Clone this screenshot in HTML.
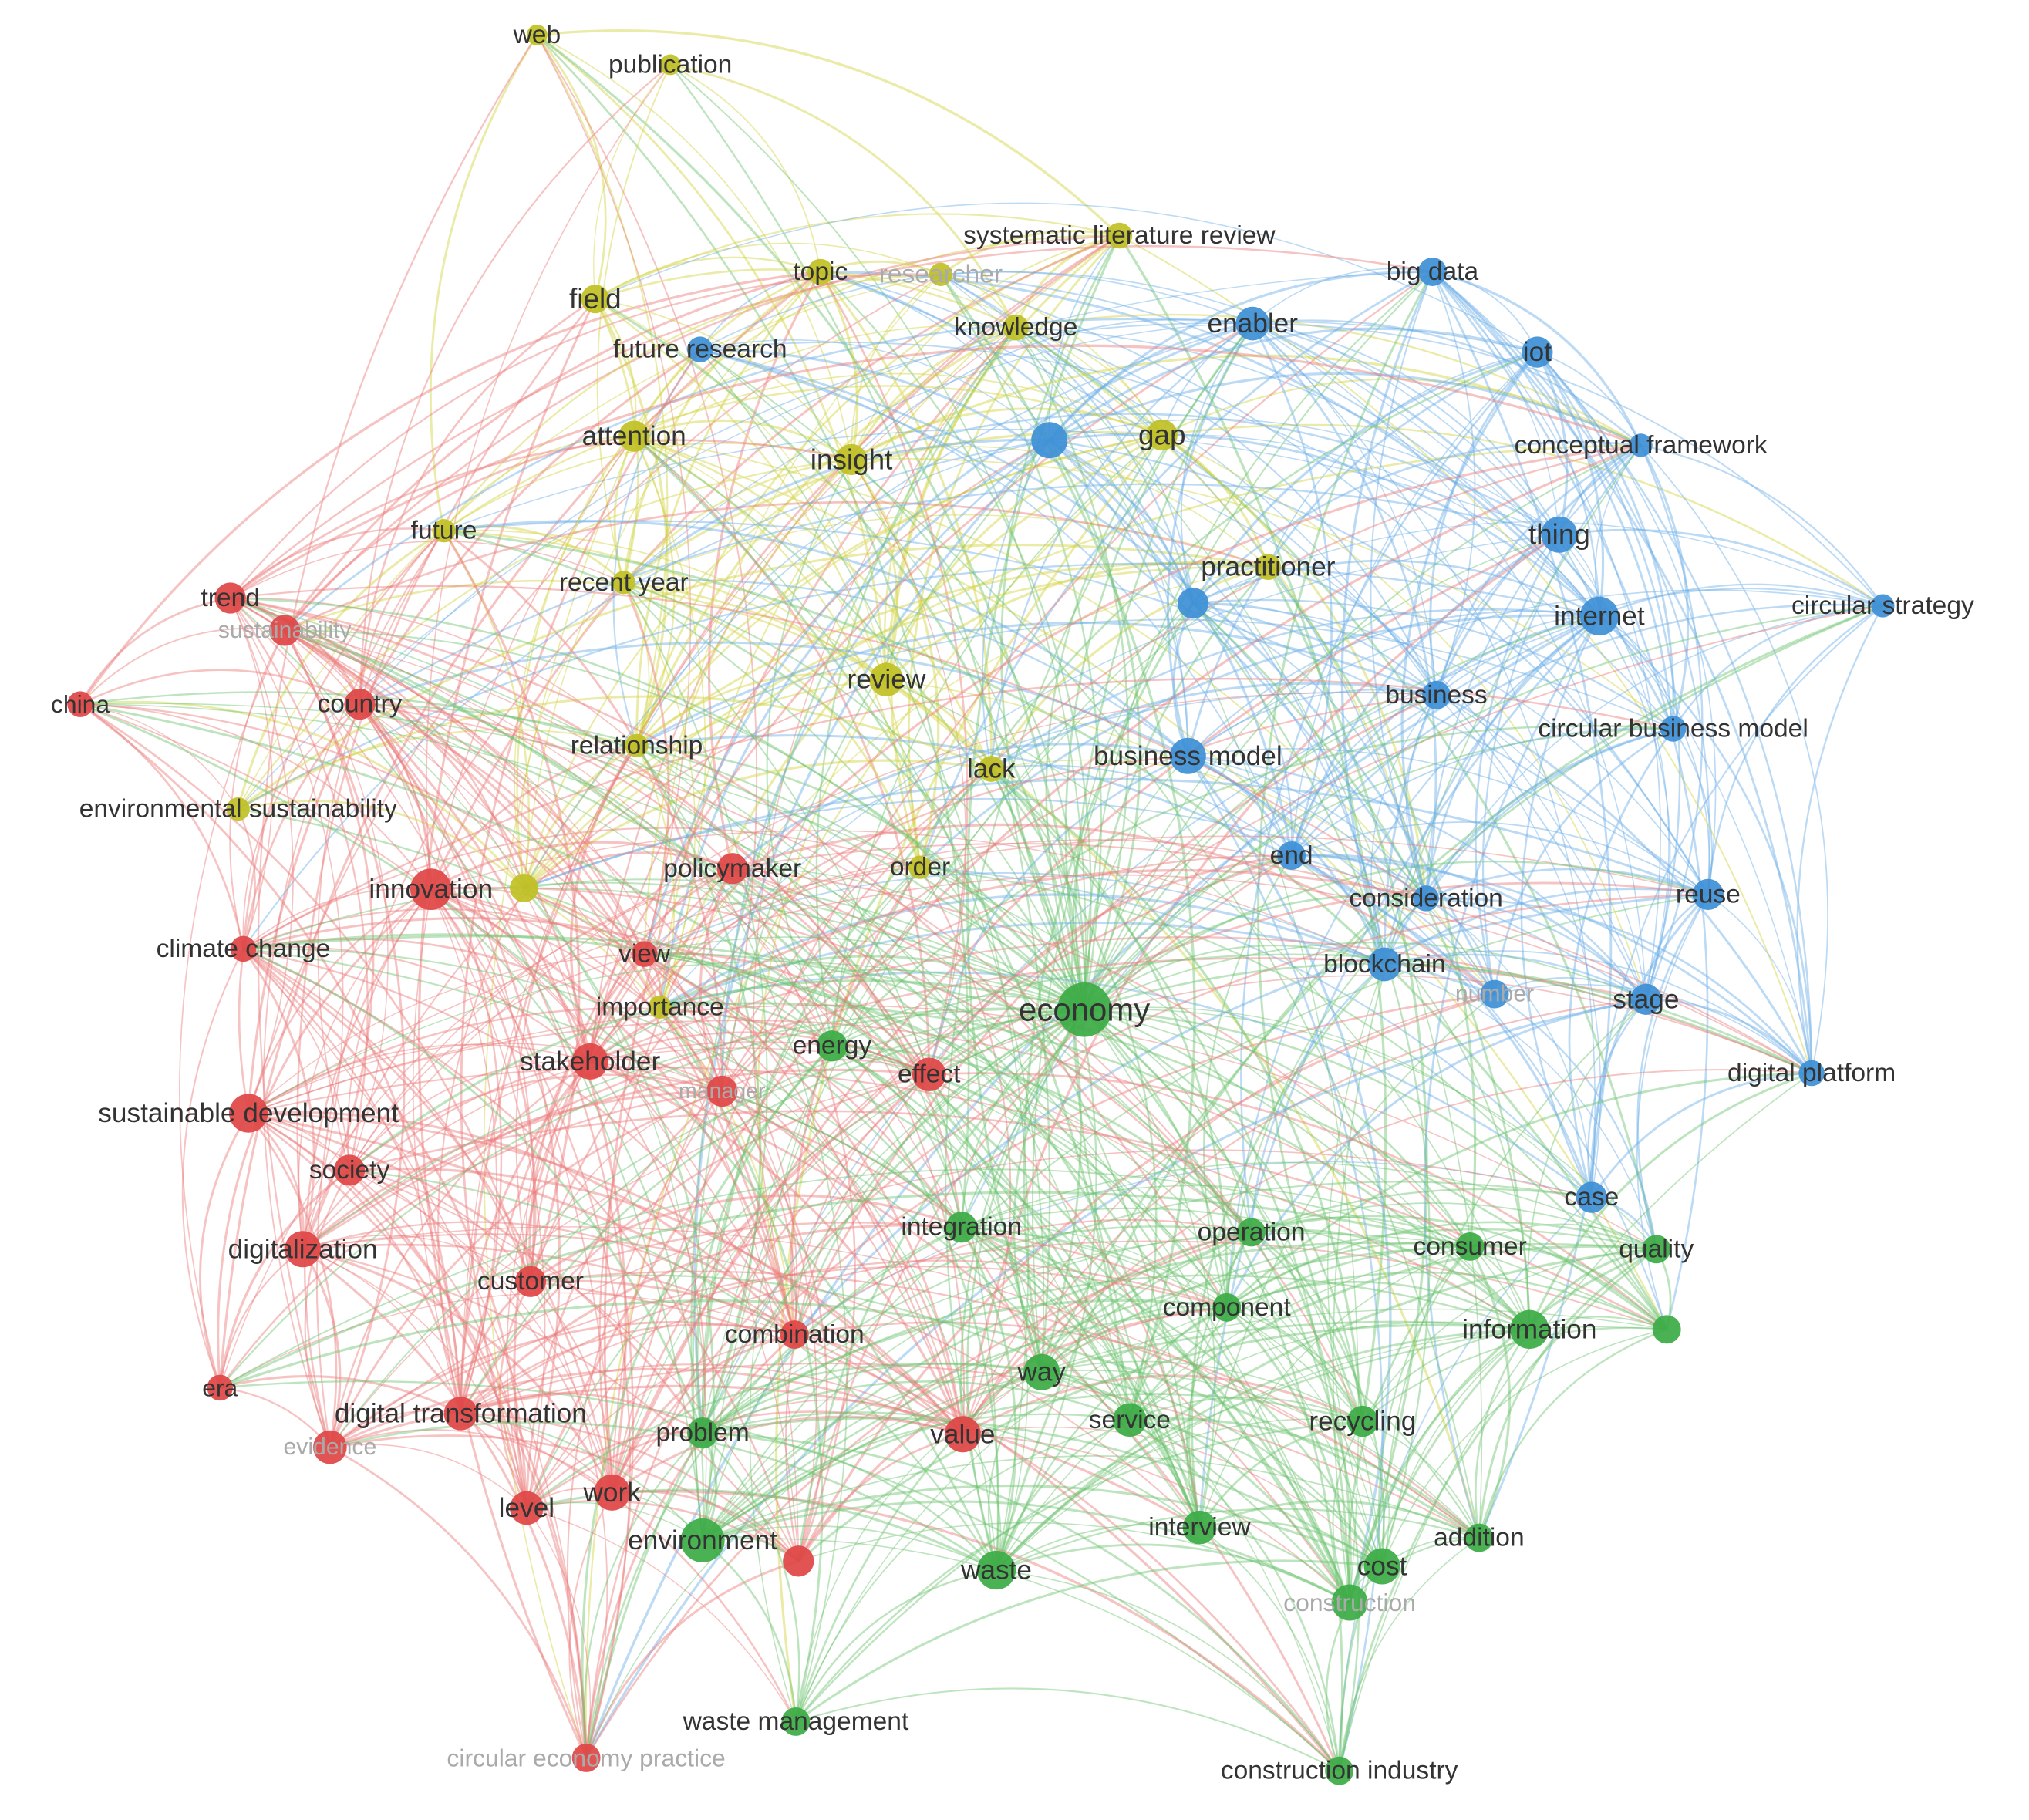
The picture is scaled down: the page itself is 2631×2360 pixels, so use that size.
<!DOCTYPE html>
<html><head><meta charset="utf-8"><style>
html,body{margin:0;padding:0;background:#fff;}
svg{display:block}
text{font-family:"Liberation Sans","DejaVu Sans",sans-serif;fill:#333;text-anchor:middle;dominant-baseline:central;}
</style></head><body>
<svg id="s" width="2631" height="2360" viewBox="0 0 1568 1406" preserveAspectRatio="none" xmlns="http://www.w3.org/2000/svg">
<rect width="1568" height="1406" fill="#fff"/>
<g id="edges" fill="none" stroke-linecap="round"></g>
<g id="nodes"></g>
<g id="labels"></g>
</svg>
<script>
const C={y:'#c0c024',b:'#3d8fd6',r:'#df4545',g:'#3cab45'};
const E={y:'#d2d240',b:'#6aaee6',r:'#ec7a7a',g:'#6cc46f'};
const N=[
["web",415,27,'y',8,20],["publication",518,50,'y',8,20],["systematic literature review",865,182,'y',10,20],
["topic",634,210,'y',10,20],["researcher",727,212,'y',9,20,1],["field",460,231,'y',11,22],["knowledge",785,253,'y',10,20],
["attention",490,337,'y',12,21],["insight",658,355,'y',12,22],["gap",898,336,'y',12,22],["future",343,410,'y',9,20],
["recent year",482,450,'y',9,20],["practitioner",980,438,'y',10,21],["review",685,525,'y',13,21],["relationship",492,576,'y',9,20],
["lack",766,594,'y',10,21],["environmental sustainability",184,625,'y',9,20],["order",711,670,'y',9,20],["importance",510,778,'y',9,20],
["",405,686,'y',11,20],
["big data",1107,210,'b',11,20],["enabler",968,250,'b',13,21],["iot",1188,272,'b',12,21],["future research",541,270,'b',10,20],
["",811,340,'b',14,20],["conceptual framework",1268,344,'b',9,20],["thing",1205,413,'b',14,22],["internet",1236,476,'b',15,21],
["",922,466,'b',12,20],["circular strategy",1455,468,'b',9,20],["business",1110,537,'b',11,20],["circular business model",1293,563,'b',10,20],
["business model",918,584,'b',14,21],["end",998,661,'b',11,20],["consideration",1102,694,'b',10,20],["reuse",1320,691,'b',12,20],
["blockchain",1070,745,'b',13,20],["number",1155,768,'b',11,18,1],["stage",1272,772,'b',12,21],["digital platform",1400,829,'b',10,20],
["case",1230,925,'b',12,20],
["trend",178,462,'r',12,20],["sustainability",220,487,'r',12,18,1],["china",62,544,'r',10,19],["country",278,544,'r',12,20],
["innovation",333,687,'r',16,21],["policymaker",566,671,'r',12,20],["climate change",188,733,'r',10,20],["view",498,737,'r',10,20],
["stakeholder",456,820,'r',14,21],["manager",558,843,'r',12,17,1],["effect",718,830,'r',13,20],["sustainable development",192,860,'r',15,21],
["society",270,904,'r',12,20],["digitalization",234,965,'r',14,21],["customer",410,990,'r',12,20],["combination",614,1031,'r',11,20],
["era",170,1072,'r',10,19],["digital transformation",356,1092,'r',13,21],["evidence",255,1118,'r',13,18,1],["value",744,1108,'r',14,21],
["work",473,1153,'r',14,21],["level",407,1165,'r',13,21],["",617,1206,'r',12,20],["circular economy practice",453,1358,'r',11,19,1],
["economy",838,780,'g',21,25],["energy",643,808,'g',12,20],["integration",743,948,'g',12,20],["operation",967,952,'g',11,20],
["consumer",1136,963,'g',11,20],["quality",1280,965,'g',11,20],["component",948,1010,'g',11,20],["information",1182,1027,'g',15,21],
["",1288,1027,'g',11,20],["way",805,1060,'g',14,21],["problem",543,1107,'g',12,20],["service",873,1097,'g',13,20],
["recycling",1053,1098,'g',12,21],["interview",927,1180,'g',13,20],["addition",1143,1188,'g',11,20],["environment",543,1190,'g',17,21],
["waste",770,1213,'g',15,21],["cost",1068,1210,'g',14,21],["construction",1043,1238,'g',14,19,1],["waste management",615,1330,'g',11,20],
["construction industry",1035,1368,'g',11,20]
];
let seed=12345;function rnd(){seed=(seed*1103515245+12345)%2147483648;return seed/2147483648;}
const eg=document.getElementById('edges'),ng=document.getElementById('nodes'),lg=document.getElementById('labels');
let paths=[];
for(let i=0;i<N.length;i++)for(let j=i+1;j<N.length;j++){
 let a=N[i],b=N[j];
 const d=Math.hypot(b[1]-a[1],b[2]-a[2]);
 let p=Math.min(1,((a[4]+b[4])/22)*(a[3]==b[3]?1.0:0.28)*Math.exp(-d/800));
 if(a[0]==="economy"||b[0]==="economy")p=0.9;
 if(rnd()<p){
  if(a[1]>b[1]){const t=a;a=b;b=t;}
  const dx=b[1]-a[1],dy=b[2]-a[2];
  const k=0.18+rnd()*0.08;
  const mx=(a[1]+b[1])/2+dy*k,my=(a[2]+b[2])/2-dx*k;
  const col=a[4]>=b[4]?E[a[3]]:E[b[3]];
  paths.push(`<path d="M${a[1]},${a[2]} Q${mx.toFixed(1)},${my.toFixed(1)} ${b[1]},${b[2]}" stroke="${col}" stroke-opacity="0.45" stroke-width="${(0.8+rnd()*1.2).toFixed(2)}"/>`);
 }
}
eg.innerHTML=paths.join('');
let nh='',lh='';
for(const n of N){
 nh+=`<circle cx="${n[1]}" cy="${n[2]}" r="${n[4]}" fill="${C[n[3]]}" fill-opacity="0.92"/>`;
 if(n[0])lh+=`<text x="${n[1]}" y="${n[2]}" font-size="${n[5]}" style="fill:${n[6]?'#aaa':'#333'}">${n[0]}</text>`;
}
ng.innerHTML=nh;lg.innerHTML=lh;
</script>
</body></html>
